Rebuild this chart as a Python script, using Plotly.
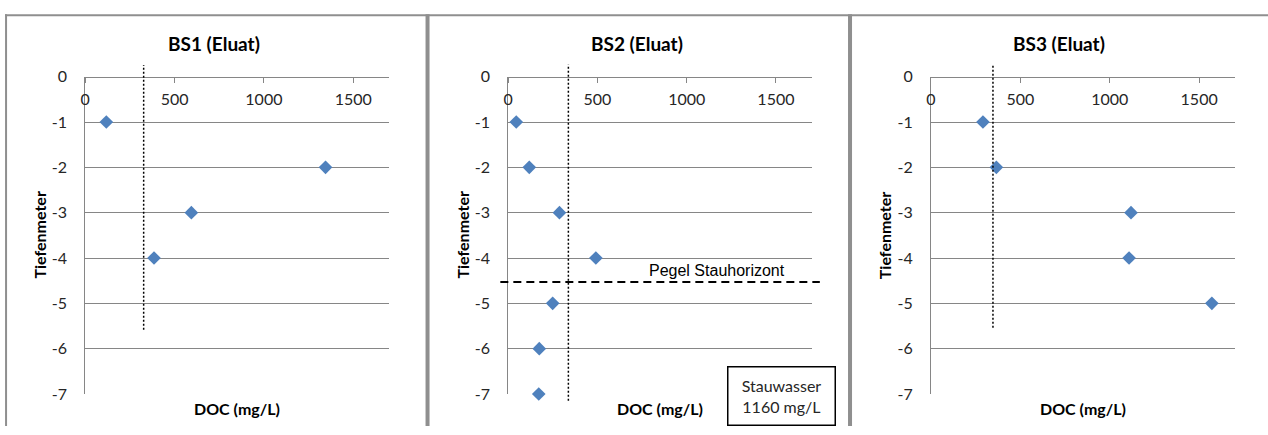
import plotly.graph_objects as go

# DOC concentrations (mg/L) of the eluates per depth (m below ground)
depth_bs1 = [-1, -2, -3, -4]
doc_bs1 = [118, 1345, 594, 385]

depth_bs2 = [-1, -2, -3, -4, -5, -6, -7]
doc_bs2 = [45, 118, 287, 491, 249, 174, 171]

depth_bs3 = [-1, -2, -3, -4, -5]
doc_bs3 = [291, 366, 1119, 1108, 1571]

titles = ["BS1 (Eluat)", "BS2 (Eluat)", "BS3 (Eluat)"]

# Vertical reference lines (DOC value, top depth, bottom depth)
ref_doc = [327, 337, 347]
ref_top = [0.26, 0.27, 0.28]
ref_bottom = [-5.58, -7.15, -5.54]

# Perched water level in BS2
pegel_depth = -4.53
pegel_label = "Pegel Stauhorizont"
stauwasser_text = "Stauwasser<br>1160 mg/L"

x_ticks = [0, 500, 1000, 1500]
y_ticks = [0, -1, -2, -3, -4, -5, -6, -7]
x_range = [0, 1700]
y_range = [-7, 0]

# Figure size; the page adds an 8px body margin, so the whole page is
# 1276x451 and is viewed at 1268x435.  Layout positions below are given
# in view pixels and converted to paper fractions.
W, H = 1268, 435
BODY = 8
VIEW_W, VIEW_H = 1268, 435
PAGE_W, PAGE_H = W + BODY, H + 2 * BODY


def px(x):
    return (x * PAGE_W / VIEW_W - BODY) / W


def py(y):
    return 1 - (y * PAGE_H / VIEW_H - BODY) / H


BLUE = "#4F81BD"
GRID = "#868686"
FRAME = "#8f8f8f"
TXT = "#262626"
FONT = "Lato, 'Open Sans', sans-serif"

plot_left = [88, 510, 931.7]
plot_right = [391, 812.7, 1235]
panel_left = [7, 430, 851]
panel_right = [429, 851, 1272]
plot_top, plot_bottom = 75, 395

fig = go.Figure()
series = [(doc_bs1, depth_bs1), (doc_bs2, depth_bs2), (doc_bs3, depth_bs3)]

annotations = []
shapes = []
for i, (xs, ys) in enumerate(series):
    n = "" if i == 0 else str(i + 1)
    xa, ya = "x" + n, "y" + n
    fig.add_trace(go.Scatter(
        x=xs, y=ys, mode="markers", xaxis=xa, yaxis=ya,
        marker=dict(symbol="diamond", size=10.5, color=BLUE, line=dict(width=0)),
        showlegend=False, cliponaxis=False,
    ))
    xdom = [px(plot_left[i]), px(plot_right[i])]
    ydom = [py(plot_bottom), py(plot_top)]
    fig.update_layout(**{
        # x axis crosses at depth 0 (top edge), labels hang below the line
        "xaxis" + n: dict(
            domain=xdom, range=x_range, anchor="free", position=ydom[1],
            side="bottom",
            tickvals=x_ticks, ticktext=[str(v) for v in x_ticks],
            ticks="outside", ticklen=5, tickcolor=GRID, tickwidth=1,
            ticklabelstandoff=3,
            showline=True, linecolor=GRID, linewidth=1,
            showgrid=False, zeroline=False,
            tickfont=dict(family=FONT, size=16, color=TXT),
        ),
        "yaxis" + n: dict(
            domain=ydom, range=y_range, anchor=xa,
            tickvals=y_ticks, ticktext=[str(v) for v in y_ticks],
            ticks="", ticklabelstandoff=14,
            showline=True, linecolor=GRID, linewidth=1,
            showgrid=True, gridcolor=GRID, gridwidth=1, zeroline=False,
            tickfont=dict(family=FONT, size=16, color=TXT),
        ),
    })

    # vertical dotted reference line, allowed to extend above the axis
    ys_dom = [(v - y_range[0]) / (y_range[1] - y_range[0]) for v in (ref_bottom[i], ref_top[i])]
    shapes.append(dict(
        type="line", xref=xa, yref=ya + " domain",
        x0=ref_doc[i], x1=ref_doc[i], y0=ys_dom[0], y1=ys_dom[1],
        line=dict(color="black", width=1.5, dash="2px,2px"),
    ))

    # panel title and axis titles
    pc = (panel_left[i] + panel_right[i]) / 2
    annotations.append(dict(
        text="<b>%s</b>" % titles[i], xref="paper", yref="paper",
        x=px(pc - 2), y=py(42), xanchor="center", yanchor="middle",
        showarrow=False, font=dict(family=FONT, size=19, color="black"),
    ))
    annotations.append(dict(
        text="<b>DOC (mg/L)</b>", xref="paper", yref="paper",
        x=px((plot_left[i] + plot_right[i]) / 2), y=py(410),
        xanchor="center", yanchor="middle",
        showarrow=False, font=dict(family=FONT, size=16, color="black"),
    ))
    annotations.append(dict(
        text="<b>Tiefenmeter</b>", xref="paper", yref="paper",
        x=px(plot_left[i] - 46), y=py((plot_top + plot_bottom) / 2),
        xanchor="center", yanchor="middle", textangle=-90,
        showarrow=False, font=dict(family=FONT, size=16, color="black"),
    ))

# perched water level line and its label (BS2)
shapes.append(dict(
    type="line", xref="x2 domain", yref="y2",
    x0=-0.026, x1=1.027, y0=pegel_depth, y1=pegel_depth,
    line=dict(color="black", width=2, dash="8px,5px"),
))
annotations.append(dict(
    text=pegel_label, xref="x2", yref="y2", x=1167, y=pegel_depth,
    yshift=12, xanchor="center", yanchor="middle", showarrow=False,
    font=dict(family="'Liberation Sans', Arial, sans-serif", size=16, color="black"),
))
annotations.append(dict(
    text=stauwasser_text, xref="paper", yref="paper",
    x=px(782.7), y=py(396.8), xanchor="center", yanchor="middle",
    showarrow=False, align="center", width=104, height=55,
    bordercolor="black", borderwidth=1.5, borderpad=1, bgcolor="white",
    font=dict(family=FONT, size=16, color=TXT),
))

# panel frames
shapes.append(dict(type="line", xref="paper", yref="paper",
                   x0=0, x1=1, y0=py(13), y1=py(13),
                   line=dict(color=FRAME, width=2)))
for xpix, wpx in [(9, 2), (429.5, 4), (851, 4)]:
    shapes.append(dict(type="line", xref="paper", yref="paper",
                       x0=max(px(xpix), 1 / W), x1=max(px(xpix), 1 / W),
                       y0=0, y1=py(12),
                       line=dict(color=FRAME, width=wpx)))

fig.update_layout(
    width=W, height=H, margin=dict(l=0, r=0, t=0, b=0),
    paper_bgcolor="white", plot_bgcolor="white",
    annotations=annotations, shapes=shapes,
    font=dict(family=FONT),
)

fig.write_html("out.html", config={"displayModeBar": False})
